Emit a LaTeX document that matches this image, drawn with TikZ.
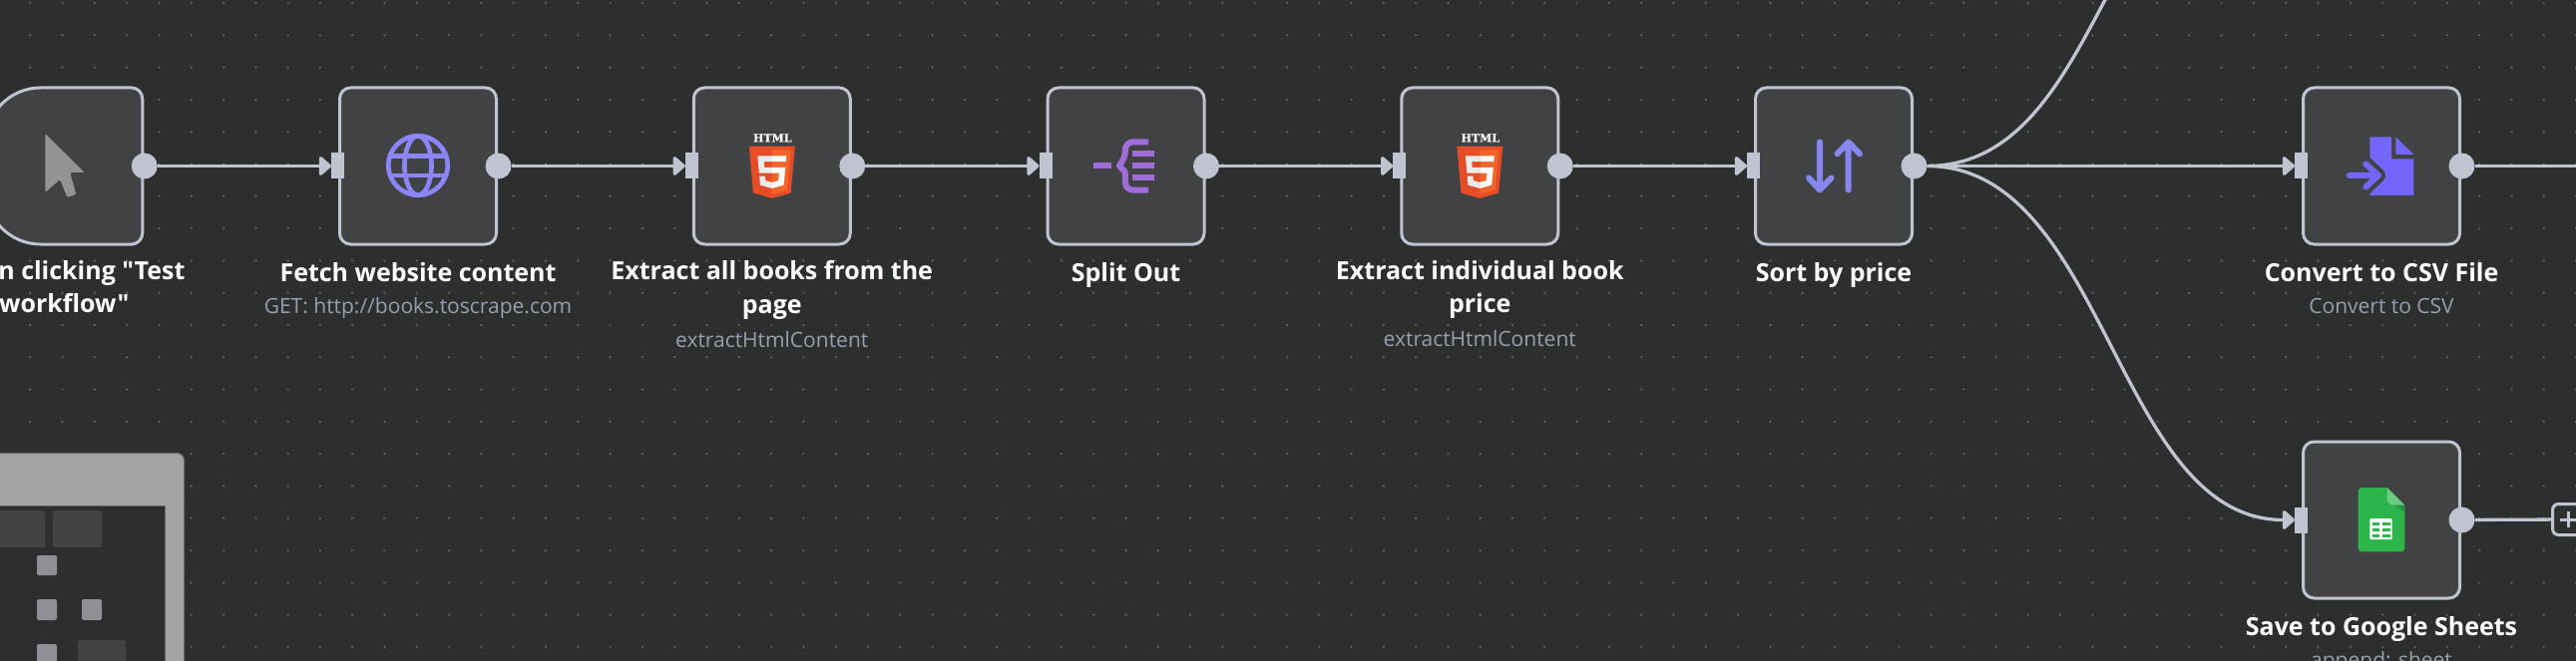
\documentclass[tikz,border=0pt]{standalone}
\usepackage{fontspec}
\usepackage{xcolor}
\usetikzlibrary{positioning,arrows.meta}
\newfontfamily\titlefont{Open Sans}
\newfontfamily\subfont{Open Sans}
\newfontfamily\logofont{DejaVu Serif}[BoldFeatures={FakeBold=0.6}]

\definecolor{canvas}{HTML}{2D2E2E}
\definecolor{griddot}{HTML}{6E6F6F}
\definecolor{boxfill}{HTML}{414244}
\definecolor{wirecol}{HTML}{C0C4D0}
\definecolor{subcol}{HTML}{98A0AE}
\definecolor{minigrey}{HTML}{8F9096}
\definecolor{framegrey}{HTML}{A3A3A3}
\definecolor{frameline}{HTML}{666766}
\definecolor{cursorgrey}{HTML}{939396}
\definecolor{globecol}{HTML}{8C85F7}
\definecolor{splitcol}{HTML}{A06CD9}
\definecolor{sortcol}{HTML}{8587EC}
\definecolor{csvcol}{HTML}{7466FA}
\definecolor{sheetcol}{HTML}{2BB54A}
\definecolor{htmldark}{HTML}{E44D26}
\definecolor{htmllight}{HTML}{F16529}

\tikzset{
  box/.style={rectangle,rounded corners=11pt,draw=wirecol,fill=boxfill,line width=3pt,minimum size=157pt,inner sep=0pt,outer sep=0pt},
  inport/.style={rectangle,fill=wirecol,minimum width=13pt,minimum height=26pt,inner sep=0pt,outer sep=0pt},
  outport/.style={circle,fill=wirecol,minimum size=26pt,inner sep=0pt,outer sep=0pt},
  wire/.style={draw=wirecol,line width=3.3pt,-{Triangle[length=13pt,width=22pt,round]}},
  plainwire/.style={draw=wirecol,line width=3.3pt},
  nodetitle/.style={font=\titlefont\bfseries\fontsize{25}{32}\selectfont,text=white,align=center,inner sep=0pt,outer sep=0pt,execute at begin node=\strut,execute at end node=\strut},
  nodesub/.style={font=\subfont\fontsize{21}{32}\selectfont,text=subcol,align=center,inner sep=0pt,outer sep=0pt,execute at begin node=\strut,execute at end node=\strut},
  minicell/.style={fill=boxfill,rounded corners=1.5pt},
  minidot/.style={fill=minigrey,rounded corners=2pt},
}

% icons, drawn round the origin of the current scope
\newcommand{\iconcursor}{
  \fill[fill=cursorgrey,rounded corners=1.5pt] (-19,-32.5) -- (20.5,6.5) -- (6,6.5) -- (12,28.5) -- (3,31.5) -- (-4,13.5) -- (-19,26.5) -- cycle;
}
\newcommand{\iconglobe}{
  \draw[globecol,line width=4.7pt] (0,-0.5) circle (29.7);
  \draw[globecol,line width=4.7pt] (0,-0.5) ellipse (13.5 and 29.7);
  \draw[globecol,line width=4.7pt] (-28,-10) -- (28,-10) (-28,9.5) -- (28,9.5);
}
\newcommand{\iconhtml}{
  \node[font=\logofont\bfseries\fontsize{11}{12}\selectfont,text=white,inner sep=0pt] (htmlword) at (0.5,-28.2) {HTML};
  \begin{scope}[shift={(-26,-19.8)},x=.102pt,y=-.102pt]
    \fill[htmldark] (71,460) -- (30,0) -- (481,0) -- (440,460) -- (255,512) -- cycle;
    \fill[htmllight] (256,472) -- (405,431) -- (440,37) -- (256,37) -- cycle;
    \fill[fill=black!8] (256,208) -- (181,208) -- (176,150) -- (256,150) -- (256,94) -- (114,94) -- (115,109) -- (129,265) -- (256,265) -- cycle;
    \fill[fill=black!8] (256,355) -- (192,338) -- (188,293) -- (132,293) -- (139,382) -- (255,414) -- (256,414) -- cycle;
    \fill[white] (255,208) -- (255,265) -- (325,265) -- (318,338) -- (255,355) -- (255,414) -- (371,382) -- (387,208) -- cycle;
    \fill[white] (255,94) -- (255,150) -- (392,150) -- (397,94) -- cycle;
  \end{scope}
}
\newcommand{\iconsplit}{
  \draw[splitcol,line width=6pt] (-32.3,-0.5) -- (-15,-0.5);
  \draw[splitcol,line width=6pt,line join=round,rounded corners=8pt] (22.7,-24.2) -- (-0.7,-24.2) -- (-0.7,-7) [rounded corners=1pt] -- (-7,-0.5) -- (-0.7,6) [rounded corners=8pt] -- (-0.7,24.2) -- (22.7,24.2);
  \foreach \rowy in {-12.2,-0.5,11.8}
    \draw[splitcol,line width=6pt] (6.7,\rowy) -- (28.3,\rowy);
}
\newcommand{\iconsort}{
  \draw[sortcol,line width=6pt,line cap=round,line join=round] (-14,-24) -- (-14,24) (-25,12) -- (-14,24) -- (-2.5,12);
  \draw[sortcol,line width=6pt,line cap=round,line join=round] (14.7,24) -- (14.7,-24) (3.5,-12.2) -- (14.7,-24) -- (26,-12.2);
}
\newcommand{\iconcsv}{
  \fill[csvcol,rounded corners=0.8pt] (-11.7,-29.2) -- (10,-29.2) -- (10,-7.2) -- (32.3,-7.2) -- (32.3,29.5) -- (-11.7,29.5) -- cycle;
  \fill[csvcol] (14.3,-29.2) -- (32.3,-11.5) -- (14.3,-11.5) -- cycle;
  \draw[boxfill,line width=14pt,line join=round] (-17,-4) -- (-3,9.5) -- (-17,23);
  \fill[boxfill] (-18,-10) rectangle (-11.7,30);
  \draw[csvcol,line width=6pt,line cap=round,line join=round] (-32.3,9.5) -- (-4,9.5) (-15.7,-2) -- (-3,9.5) -- (-15.7,21);
}
\newcommand{\iconsheets}{
  \fill[sheetcol,rounded corners=3.5pt] (-23.3,-32.5) -- (5.7,-32.5) -- (23.3,-14.8) -- (23.3,31.8) -- (-23.3,31.8) -- cycle;
  \fill[black!18!sheetcol] (8,-18) -- (23.3,-14.8) -- (23.3,-8) -- cycle;
  \fill[white!30!sheetcol] (5.7,-32.5) -- (23.3,-14.8) -- (10,-14.8) -- (5.7,-19) -- cycle;
  \fill[white,rounded corners=1pt] (-11.7,-1.5) rectangle (10.7,19.5);
  \foreach \rowy in {3.5,9.5,15.5}
    \foreach \colx in {-9.3,1}
      \fill[sheetcol] (\colx,\rowy-1.5) rectangle ++(7.6,3);
}

\begin{document}
\begin{tikzpicture}[x=1pt,y=1pt]
  \useasboundingbox (0,0) rectangle (2582,-663);
  \clip (0,0) rectangle (2582,-663);
  \fill[canvas] (0,0) rectangle (2582,-663);

  % canvas dots
  \foreach \i in {0,...,80}
    \foreach \j in {0,...,20}
      \fill[griddot] (-2.1+\i*32.3,-3-\j*32.3) circle (1.1);

  % minimap
  \draw[fill=framegrey,draw=frameline,line width=1pt,rounded corners=7pt] (-20,-454.5) rectangle (184.5,-700);
  \draw[fill=canvas,draw=frameline,line width=1pt] (-20,-507) rectangle (165,-700);
  \fill[minicell] (-20,-512) rectangle (45,-549);
  \fill[minicell] (53,-512) rectangle (102,-549);
  \fill[minicell] (78,-642) rectangle (126,-690);
  \fill[minidot] (37,-557) rectangle (57,-577);
  \fill[minidot] (37,-601) rectangle (57,-622);
  \fill[minidot] (82,-601) rectangle (102,-622);
  \fill[minidot] (37,-646) rectangle (57,-680);

  % boxes
  \node[box,draw=none,fill=none] (click) at (64.25,-166.5) {};
  \node[box] (fetch) [right=197.75pt of click] {};
  \node[box] (extractall) [right=197.75pt of fetch] {};
  \node[box] (splitout) [right=197.75pt of extractall] {};
  \node[box] (extractprice) [right=197.75pt of splitout] {};
  \node[box] (sortprice) [right=197.75pt of extractprice] {};
  \node[box] (csvfile) [right=392pt of sortprice] {};
  \node[box] (sheets) [below=198pt of csvfile] {};
  \draw[fill=boxfill,draw=wirecol,line width=3pt] (click.north) [rounded corners=11pt] -| (click.east) |- (click.south) [rounded corners=55pt] -| (click.west) |- (click.north);

  % ports
  \foreach \n in {click,fetch,extractall,splitout,extractprice,sortprice,csvfile,sheets}
    \node[outport] (\n out) at ([xshift=2pt]\n.east) {};
  \foreach \n in {fetch,extractall,splitout,extractprice,sortprice,csvfile,sheets}
    \node[inport] (\n in) at ([xshift=-2pt]\n.west) {};

  \node[rectangle,rounded corners=6pt,draw=wirecol,fill=canvas,line width=3pt,minimum size=31pt,inner sep=0pt] (addbtn) at (2574,-521) {};
  \coordinate (csvend) at (2600,-166.5);
  \coordinate (offtop) at (2288,166);

  % connectors
  \path[every edge/.style={wire}]
    (clickout) edge (fetchin)
    (fetchout) edge (extractallin)
    (extractallout) edge (splitoutin)
    (splitoutout) edge (extractpricein)
    (extractpriceout) edge (sortpricein)
    (sortpriceout) edge (csvfilein)
  ;
  \draw[wire] (sortpriceout.east) .. controls +(180,0) and ([xshift=-180pt]sheetsin.west) .. (sheetsin.west);
  \draw[plainwire] (sortpriceout.east) .. controls +(180,0) and ([xshift=-180pt]offtop) .. (offtop);
  \draw[plainwire] (csvfileout) -- (csvend);
  \draw[plainwire] (sheetsout) -- (addbtn);
  \draw[draw=wirecol,line width=3pt] ([xshift=-8pt]addbtn.center) -- ([xshift=8pt]addbtn.center) ([yshift=-8pt]addbtn.center) -- ([yshift=8pt]addbtn.center);

  % icons
  \begin{scope}[shift={(click.center)},y=-1pt] \iconcursor \end{scope}
  \begin{scope}[shift={(fetch.center)},y=-1pt] \iconglobe \end{scope}
  \begin{scope}[shift={(extractall.center)},y=-1pt] \iconhtml \end{scope}
  \begin{scope}[shift={(splitout.center)},y=-1pt] \iconsplit \end{scope}
  \begin{scope}[shift={(extractprice.center)},y=-1pt] \iconhtml \end{scope}
  \begin{scope}[shift={(sortprice.center)},y=-1pt] \iconsort \end{scope}
  \begin{scope}[shift={(csvfile.center)},y=-1pt] \iconcsv \end{scope}
  \begin{scope}[shift={(sheets.center)},y=-1pt] \iconsheets \end{scope}

  % labels
  \node[nodetitle] (clicktitle) [below=16.5pt of click] {When clicking "Test\\[1.5pt]workflow"};
  \node[nodetitle] (fetchtitle) [below=15pt of fetch] {Fetch website content};
  \node[nodesub] (fetchsub) [below=0.5pt of fetchtitle] {GET: http://books.toscrape.com};
  \node[nodetitle] (extractalltitle) [below=16.5pt of extractall] {Extract all books from the\\[1.5pt]page};
  \node[nodesub] (extractallsub) [below=2pt of extractalltitle] {extractHtmlContent};
  \node[nodetitle] (splitouttitle) [below=15pt of splitout] {Split Out};
  \node[nodetitle] (extractpricetitle) [below=16.5pt of extractprice] {Extract individual book\\[1.5pt]price};
  \node[nodesub] (extractpricesub) [below=2pt of extractpricetitle] {extractHtmlContent};
  \node[nodetitle] (sortpricetitle) [below=15pt of sortprice] {Sort by price};
  \node[nodetitle] (csvfiletitle) [below=15pt of csvfile] {Convert to CSV File};
  \node[nodesub] (csvfilesub) [below=0.5pt of csvfiletitle] {Convert to CSV};
  \node[nodetitle] (sheetstitle) [below=15pt of sheets] {Save to Google Sheets};
  \node[nodesub] (sheetssub) [below=0.5pt of sheetstitle] {append: sheet};
\end{tikzpicture}
\end{document}
